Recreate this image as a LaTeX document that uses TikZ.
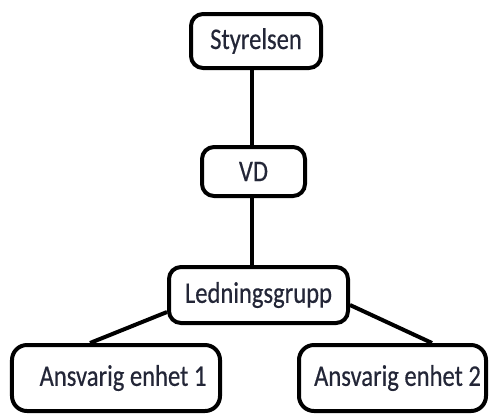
\documentclass[tikz,border=0pt]{standalone}
\usepackage{fontspec}
\setmainfont{Carlito}[FakeStretch=0.82, FakeBold=0.4]
\definecolor{labelink}{RGB}{35,38,55}
\begin{document}
\begin{tikzpicture}[x=1bp,y=-1bp,
  orgbox/.style={draw=black, line width=4bp, rounded corners=12bp, fill=white,
    text=labelink, inner sep=0pt, align=center,
    font=\fontsize{30bp}{34bp}\selectfont},
  link/.style={draw=black, line width=4bp}]
  \useasboundingbox (0,0) rectangle (492,416);

  % organisation boxes
  \node[orgbox, minimum width=130bp, minimum height=54bp] (sty) at (256,41) {Styrelsen};
  \node[orgbox, minimum width=103bp, minimum height=49bp] (vd) at (253.5,171.5) {VD};
  \node[orgbox, minimum width=179bp, minimum height=56bp] (led) at (258.5,295) {Ledningsgrupp};
  \node[orgbox, minimum width=208bp, minimum height=66bp, rounded corners=15bp] (a1) at (116,378) {\hspace*{14bp}Ansvarig enhet 1};
  \node[orgbox, minimum width=187bp, minimum height=66bp, rounded corners=15bp] (a2) at (392.5,378) {\hspace*{10bp}Ansvarig enhet 2};

  % reporting lines
  \draw[link] ([xshift=-1.5bp]vd.north) -- ([xshift=-1.5bp]vd.north |- sty.south);
  \draw[link] ([xshift=-2bp]vd.south) -- ([xshift=-2bp]vd.south |- led.north);
  \draw[link] ([yshift=-17bp]led.west) -- ([xshift=-26bp]a1.north);
  \draw[link] ([yshift=-10bp]led.east) -- ([xshift=39.5bp]a2.north);
\end{tikzpicture}
\end{document}
